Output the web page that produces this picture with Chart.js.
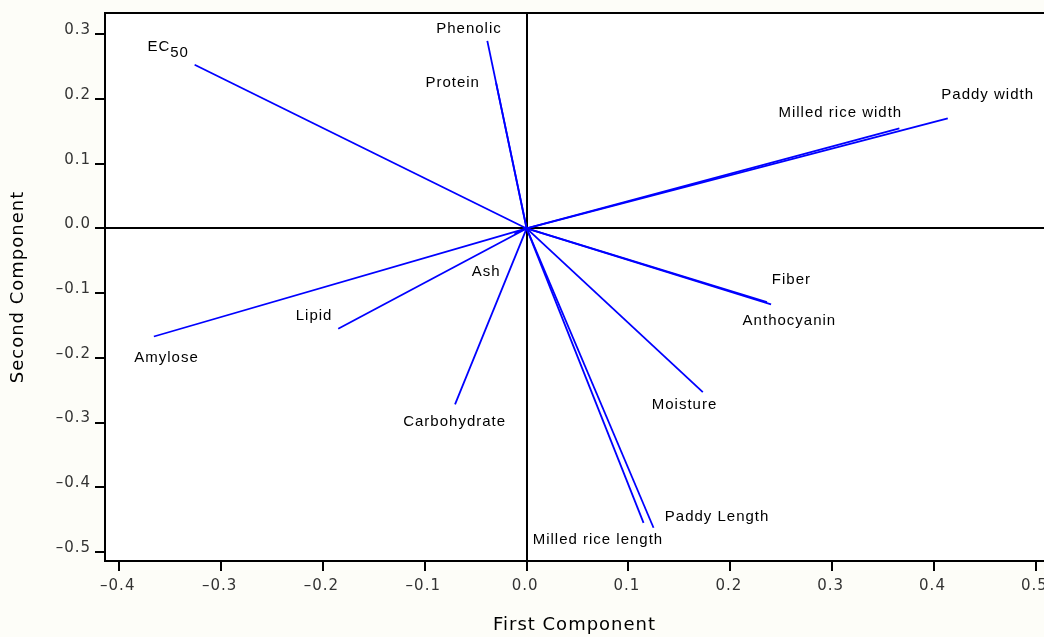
<!DOCTYPE html>
<html>
<head>
<meta charset="utf-8">
<script src="https://cdn.jsdelivr.net/npm/chart.js@4/dist/chart.umd.min.js"></script>
<style>
    html, body { margin: 0; padding: 0; background: #fdfdf8; }
    #pcaChart { display: block; background: #fdfdf8; }
</style>
</head>
<body>
<canvas id="pcaChart" width="1044" height="637"></canvas>
<script>
// loading vectors, first and second component
var variables = ['EC_50', 'Phenolic', 'Protein', 'Milled rice width', 'Paddy width', 'Fiber', 'Anthocyanin',
    'Moisture', 'Paddy Length', 'Milled rice length', 'Carbohydrate', 'Ash', 'Lipid', 'Amylose'];
var pc1 = [-0.326, -0.0386, -0.030, 0.366, 0.4135, 0.236, 0.240, 0.173, 0.1246, 0.1148, -0.0703, -0.012, -0.185, -0.366];
var pc2 = [0.253, 0.290, 0.225, 0.1546, 0.170, -0.114, -0.1175, -0.253, -0.4626, -0.455, -0.272, -0.008, -0.155, -0.167];

// where each name sits (data units)
var labelX = [-0.352, -0.0566, -0.0726, 0.308, 0.4527, 0.260, 0.258, 0.155, 0.187, 0.070, -0.0707, -0.0397, -0.2087, -0.3536];
var labelY = [0.280, 0.309, 0.2257, 0.179, 0.206, -0.080, -0.143, -0.272, -0.4456, -0.482, -0.299, -0.0675, -0.1345, -0.200];

var xTicks = [-0.4, -0.3, -0.2, -0.1, 0.0, 0.1, 0.2, 0.3, 0.4, 0.5];
var yTicks = [-0.5, -0.4, -0.3, -0.2, -0.1, 0.0, 0.1, 0.2, 0.3];

var tickFont = { family: 'DejaVu Sans', size: 15 };
var titleFont = { family: 'DejaVu Sans', size: 18 };
var labelFont = '15px "Liberation Sans", Arial, sans-serif';

function fmt(v) {
    var s = Math.abs(v).toFixed(1);
    return v < -1e-9 ? '\u2013' + s : s;
}

function zeroLine(ctx) {
    return ctx.tick && Math.abs(ctx.tick.value) < 1e-9 ? '#000000' : 'rgba(0,0,0,0)';
}

var datasets = variables.map(function(name, i) {
    return {
        label: name,
        data: [{ x: 0, y: 0 }, { x: pc1[i], y: pc2[i] }],
        showLine: true,
        borderColor: '#0000ff',
        borderWidth: 1.8,
        pointRadius: 0,
        fill: false
    };
});

var spacing = {
    id: 'spacing',
    beforeUpdate: function(chart) { chart.ctx.letterSpacing = '1px'; },
    beforeDraw: function(chart) {
        var ctx = chart.ctx, a = chart.chartArea;
        ctx.letterSpacing = '1px';
        ctx.save();
        ctx.fillStyle = '#ffffff';
        ctx.fillRect(a.left, a.top, a.right - a.left, a.bottom - a.top);
        ctx.restore();
    }
};

var names = {
    id: 'names',
    afterDraw: function(chart) {
        var ctx = chart.ctx, a = chart.chartArea;
        var sx = chart.scales.x, sy = chart.scales.y;
        ctx.save();
        // top frame line
        ctx.strokeStyle = '#000';
        ctx.lineWidth = 2;
        ctx.beginPath();
        ctx.moveTo(a.left, a.top);
        ctx.lineTo(a.right, a.top);
        ctx.stroke();

        ctx.font = labelFont;
        ctx.fillStyle = '#000000';
        ctx.textBaseline = 'middle';
        variables.forEach(function(name, i) {
            var px = sx.getPixelForValue(labelX[i]);
            var py = sy.getPixelForValue(labelY[i]);
            var parts = name.split('_');
            if (parts.length > 1) {
                var w1 = ctx.measureText(parts[0]).width;
                var w2 = ctx.measureText(parts[1]).width;
                var x0 = px - (w1 + w2) / 2;
                ctx.textAlign = 'left';
                ctx.fillText(parts[0], x0, py);
                ctx.fillText(parts[1], x0 + w1, py + 5.5);
            } else {
                ctx.textAlign = 'center';
                ctx.fillText(name, px, py);
            }
        });
        ctx.restore();
    }
};

var chart = new Chart(document.getElementById('pcaChart').getContext('2d'), {
    type: 'scatter',
    data: { datasets: datasets },
    options: {
        responsive: false,
        animation: false,
        layout: { padding: { top: 13, right: 0, bottom: 0, left: 0 } },
        plugins: {
            legend: { display: false },
            tooltip: { enabled: false }
        },
        scales: {
            x: {
                type: 'linear',
                position: 'bottom',
                min: -0.414,
                max: 0.508,
                border: { color: '#000', width: 2 },
                grid: { color: zeroLine, lineWidth: 2, tickColor: '#000', tickLength: 10, tickWidth: 2 },
                ticks: { font: tickFont, color: '#333333', padding: 6, labelOffset: -1.5, maxRotation: 0, callback: fmt },
                title: { display: true, text: 'First Component', font: titleFont, color: '#000', padding: { top: 0, bottom: 1 } },
                afterBuildTicks: function(s) { s.ticks = xTicks.map(function(v) { return { value: v }; }); },
                afterFit: function(s) { s.height = 76; s.paddingLeft = 0; s.paddingRight = 0; }
            },
            y: {
                type: 'linear',
                min: -0.514,
                max: 0.333,
                border: { color: '#000', width: 2 },
                grid: { color: zeroLine, lineWidth: 2, tickColor: '#000', tickLength: 10, tickWidth: 2 },
                ticks: { font: tickFont, color: '#333333', padding: 4, labelOffset: -4, callback: fmt },
                title: { display: true, text: 'Second Component', font: titleFont, color: '#000', padding: { top: 8, bottom: 0 } },
                afterBuildTicks: function(s) { s.ticks = yTicks.map(function(v) { return { value: v }; }); },
                afterFit: function(s) { s.width = 105; s.paddingTop = 0; s.paddingBottom = 0; }
            }
        }
    },
    plugins: [spacing, names]
});
</script>
</body>
</html>
